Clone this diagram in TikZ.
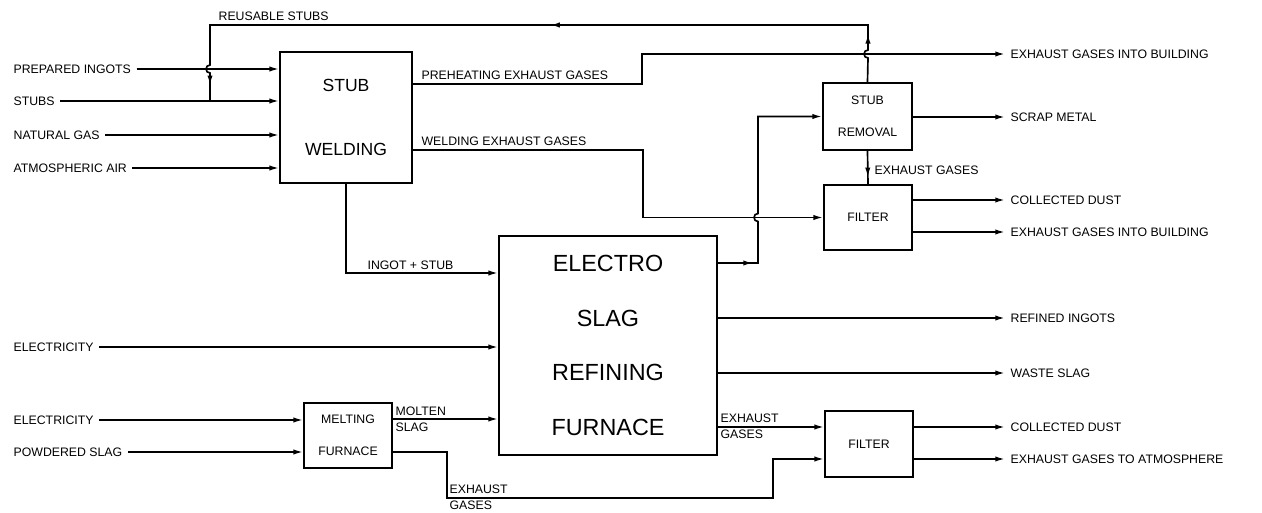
\documentclass[tikz,border=0pt]{standalone}
\usepackage{fontspec}
\setmainfont{Liberation Sans}
\usetikzlibrary{calc,positioning,arrows.meta,decorations.markings}
\tikzset{
  pipe/.style={draw,line width=0.95pt},
  flow/.style={pipe,-{Latex[length=5.5pt,width=3pt]}},
  midtip/.style={postaction={decorate,decoration={markings,
      mark=at position #1 with {\arrow{Latex[length=5.5pt,width=3pt]}}}}},
  unit/.style={draw,line width=1pt,align=center,inner sep=0pt},
  tag/.style={font=\fontsize{7}{8}\selectfont,inner xsep=3pt,inner ysep=1pt},
  tagtwo/.style={tag,align=left,font=\fontsize{7}{9}\selectfont},
}
\newcommand{\srcline}[4]{%
  \node[tag,anchor=west] (#1) at (8,#2) {#3};
  \draw[flow] (#1.east) -- (#1.east -| #4.west);}
\newcommand{\sinkline}[4]{%
  \node[tag,anchor=west] (#2) at (1005,#3) {#4};
  \draw[flow] (#1.east |- #2.west) -- (#2.west);}

\begin{document}
\begin{tikzpicture}[x=0.02cm,y=-0.02cm]
        \useasboundingbox (0,0) rectangle (1262,513);
        \node[unit,minimum width=2.64cm,minimum height=2.62cm,font=\fontsize{10}{36}\selectfont] (weld) at (346,117.5) {STUB\\WELDING};
        \node[unit,minimum width=4.36cm,minimum height=4.38cm,font=\fontsize{13.3}{31}\selectfont] (esr) at (608,345.5) {ELECTRO\\SLAG\\REFINING\\FURNACE};
        \node[unit,minimum width=1.78cm,minimum height=1.34cm,font=\fontsize{7}{18}\selectfont] (remov) at (867.5,116.5) {STUB\\REMOVAL};
        \node[unit,minimum width=1.76cm,minimum height=1.3cm,font=\fontsize{7}{8}\selectfont] (filtA) at (868,217.5) {FILTER};
        \node[unit,minimum width=1.76cm,minimum height=1.32cm,font=\fontsize{7}{8}\selectfont] (filtB) at (869,444) {FILTER};
        \node[unit,minimum width=1.76cm,minimum height=1.3cm,font=\fontsize{7}{18}\selectfont] (melt) at (348,435.5) {MELTING\\FURNACE};
        \srcline{inIngot}{69}{PREPARED INGOTS}{weld}
        \srcline{inStub}{101}{STUBS}{weld}
        \srcline{inGas}{135}{NATURAL GAS}{weld}
        \srcline{inAir}{168}{ATMOSPHERIC AIR}{weld}
        \srcline{inElec}{347}{ELECTRICITY}{esr}
        \srcline{inElecB}{420}{ELECTRICITY}{melt}
        \srcline{inSlag}{452}{POWDERED SLAG}{melt}
        \coordinate (rsTop) at (868,25);
        \coordinate (rsLeft) at (210,25);
        \coordinate (rsDrop) at (210,101);
        \draw[pipe,midtip=30pt,midtip=216pt,midtip=-9pt] (remov.north) -- (868,58)
          arc[start angle=270,end angle=90,radius=0.08cm] -- (rsTop) -- (rsLeft) -- (210,65)
          arc[start angle=90,end angle=270,radius=0.08cm] -- (rsDrop);
        \node[tag,anchor=south west] (rsTag) at (213,23) {REUSABLE STUBS};
        \node[tag,anchor=west] (outExA) at (1005,54) {EXHAUST GASES INTO BUILDING};
        \coordinate (phBend) at (642,84);
        \draw[flow] (weld.east |- phBend) -- (phBend) -- (phBend |- outExA.west) -- (outExA.west);
        \node[tag,anchor=south west] (phTag) at (416,82) {PREHEATING EXHAUST GASES};
        \coordinate (weBend) at (643,150);
        \draw[flow] (weld.east |- weBend) -- (weBend) -- (weBend |- filtA.west) -- (filtA.west);
        \node[tag,anchor=south west] (weTag) at (416,148) {WELDING EXHAUST GASES};
        \coordinate (srRise) at (758,263);
        \draw[flow,midtip=20pt] (esr.east |- srRise) -- (srRise) -- (758,221.5)
          arc[start angle=270,end angle=90,radius=0.08cm] -- (srRise |- remov.west) -- (remov.west);
        \coordinate (isBend) at (346,273);
        \draw[flow] (weld.south) -- (isBend) -- (isBend -| esr.west);
        \node[tag,anchor=south west] (isTag) at (362,272) {INGOT + STUB};
        \draw[pipe,midtip=15pt] (remov.south) -- (filtA.north);
        \node[tag,anchor=west] (rgTag) at (869,170) {EXHAUST GASES};
        \coordinate (msRow) at (392,419);
        \draw[flow] (melt.east |- msRow) -- (msRow -| esr.west);
        \node[tagtwo,anchor=west] (msTag) at (390,419) {MOLTEN\\SLAG};
        \coordinate (exRow) at (717,427);
        \draw[flow] (esr.east |- exRow) -- (exRow -| filtB.west);
        \node[tagtwo,anchor=west] (exTag) at (715,426) {EXHAUST\\GASES};
        \coordinate (mxA) at (447,452);
        \coordinate (mxB) at (773,498);
        \coordinate (fbIn) at (773,459);
        \draw[flow] (melt.east |- mxA) -- (mxA) -- (mxA |- mxB) -- (mxB) -- (fbIn) -- (fbIn -| filtB.west);
        \node[tagtwo,anchor=west] (mxTag) at (444,497) {EXHAUST\\GASES};
        \sinkline{remov}{outScrap}{117}{SCRAP METAL}
        \sinkline{filtA}{outDustA}{200}{COLLECTED DUST}
        \sinkline{filtA}{outExB}{232}{EXHAUST GASES INTO BUILDING}
        \sinkline{esr}{outRefined}{318}{REFINED INGOTS}
        \sinkline{esr}{outSlag}{373}{WASTE SLAG}
        \sinkline{filtB}{outDustB}{427}{COLLECTED DUST}
        \sinkline{filtB}{outAtm}{459}{EXHAUST GASES TO ATMOSPHERE}
      \end{tikzpicture}
\end{document}
